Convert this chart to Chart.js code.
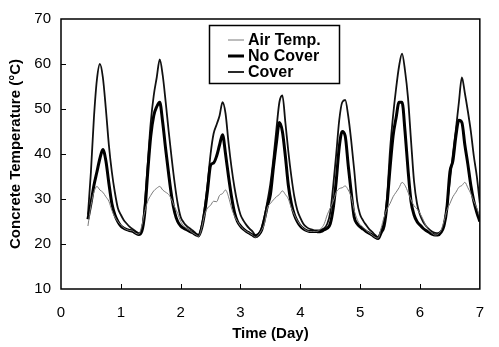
<!DOCTYPE html>
<html>
<head>
<meta charset="utf-8">
<script src="https://cdn.jsdelivr.net/npm/chart.js@4.4.1/dist/chart.umd.min.js"></script>
<style>
  html, body { margin: 0; padding: 0; background: #fff; }
  #wrap { width: 499px; height: 347px; }
</style>
</head>
<body>
<div id="wrap"><canvas id="chart" width="499" height="347"></canvas></div>
<script>
"use strict";

// time (day), one reading every 0.05 day
const days = [
  0.45, 0.5, 0.55, 0.6, 0.65, 0.7, 0.75, 0.8, 0.85, 0.9, 0.95,
  1, 1.05, 1.1, 1.15, 1.2, 1.25, 1.3, 1.35, 1.4, 1.45, 1.5, 1.55, 1.6, 1.65, 1.7, 1.75, 1.8, 1.85, 1.9, 1.95,
  2, 2.05, 2.1, 2.15, 2.2, 2.25, 2.3, 2.35, 2.4, 2.45, 2.5, 2.55, 2.6, 2.65, 2.7, 2.75, 2.8, 2.85, 2.9, 2.95,
  3, 3.05, 3.1, 3.15, 3.2, 3.25, 3.3, 3.35, 3.4, 3.45, 3.5, 3.55, 3.6, 3.65, 3.7, 3.75, 3.8, 3.85, 3.9, 3.95,
  4, 4.05, 4.1, 4.15, 4.2, 4.25, 4.3, 4.35, 4.4, 4.45, 4.5, 4.55, 4.6, 4.65, 4.7, 4.75, 4.8, 4.85, 4.9, 4.95,
  5, 5.05, 5.1, 5.15, 5.2, 5.25, 5.3, 5.35, 5.4, 5.45, 5.5, 5.55, 5.6, 5.65, 5.7, 5.75, 5.8, 5.85, 5.9, 5.95,
  6, 6.05, 6.1, 6.15, 6.2, 6.25, 6.3, 6.35, 6.4, 6.45, 6.5, 6.55, 6.6, 6.65, 6.7, 6.75, 6.8, 6.85, 6.9, 6.95,
  7
];

const airTemp = [
  24, 28.5, 31.5, 32.8, 32, 31.5, 30.5, 29.5, 27.5, 26, 25,
  24.2, 23.6, 23.2, 23, 22.9, 22.4, 22.2, 24, 27.2, 29.5, 30.8, 31.8, 32.4, 32.8, 32, 31.5, 31, 29.8, 28.2, 26.8,
  25, 24, 23.4, 23, 22.5, 22.1, 21.7, 23.5, 26.5, 28, 28.6, 29.5, 29.4, 30.8, 31.2, 32, 30.5, 28, 26.2, 25,
  24, 23.3, 22.8, 22.4, 22, 21.5, 22, 23, 24.5, 28, 29, 29.8, 30.5, 31, 31.8, 31, 30, 28, 26.5, 25.2,
  24.2, 23.5, 23, 22.8, 22.8, 22.8, 22.9, 23.5, 24.5, 26.5, 28, 29.5, 31.5, 32.3, 32.5, 32.9, 32, 30.5, 27.5, 25.5,
  24.3, 23.7, 23, 22.5, 22, 21.5, 21.3, 23.5, 26, 27.8, 29, 30.5, 31.5, 32.5, 33.7, 33, 31.5, 29.8, 28.5, 27.8,
  26.8, 25.5, 24, 23, 22.4, 22, 22.2, 23, 25, 27.5, 29, 30.5, 31.5, 32.6, 33, 33.7, 32.5, 31.2, 29.5, 28,
  26
];

const noCover = [
  25.5, 29, 33, 36, 39, 41, 38.5, 33.5, 29, 26.5, 25,
  24, 23.5, 23.2, 23, 22.8, 22.4, 22.1, 22.8, 27, 36, 44, 48.5, 50.5, 51.5, 47, 41, 35.5, 30.5, 27, 25,
  24, 23.5, 23.2, 22.8, 22.5, 22.1, 21.8, 23.5, 27, 32, 37.5, 38, 39.5, 42, 44.3, 40, 35, 30.5, 27, 25,
  24, 23.3, 22.8, 22.4, 22, 21.6, 22, 23, 25.5, 28.5, 31, 37, 42.5, 47, 45, 39.5, 33, 29, 26.5, 25,
  24, 23.4, 23, 22.8, 22.8, 22.8, 22.7, 22.8, 23.2, 23.5, 24.5, 28, 34, 41.5, 45, 44, 37.5, 31.5, 26, 24.5,
  23.8, 23.3, 22.8, 22.4, 22, 21.5, 21.2, 22.5, 24, 29, 37, 44, 48, 51.5, 51.5, 45, 36.5, 29.5, 26.5, 25,
  24.2, 23.5, 23, 22.6, 22.2, 22, 22, 22.6, 24, 28, 36, 38.5, 44, 47.5, 47, 42, 37.7, 33, 29.5, 27,
  25
];

const cover = [
  26.5, 36, 48, 56.5, 60, 57, 50, 42, 36, 31.5, 28,
  26.5, 25.3, 24.5, 23.8, 23.3, 22.8, 22.4, 23, 29, 38, 47, 53, 57, 61, 57.5, 51.5, 45, 39, 33.5, 29,
  26, 24.8, 24, 23.5, 23, 22.4, 22, 24, 28, 33.5, 40, 44.5, 46.5, 48.5, 51.5, 49, 42.5, 37, 32.5, 29,
  26.5, 25.2, 24.2, 23.4, 22.8, 22, 22.3, 23.5, 26, 29.5, 33.5, 39, 45.5, 51.5, 53, 47, 40.5, 35, 30.5, 27.5,
  25.8, 24.5, 23.8, 23.4, 23.2, 23, 23, 23.2, 23.5, 24.5, 27, 33, 40, 47.5, 51.5, 52, 48.5, 43, 36.5, 29.5,
  26.5, 25.2, 24.2, 23.3, 22.7, 22, 21.5, 23, 25, 30.5, 41, 48.5, 54.5, 59.5, 62.3, 58.5, 52.4, 43, 34, 29,
  26.5, 25, 24, 23.3, 22.8, 22.5, 22.4, 22.8, 24, 28.5, 34, 40, 45.5, 51.5, 57, 53.5, 49.5, 45, 39.5, 35,
  29
];

const xTicks = [0, 1, 2, 3, 4, 5, 6, 7];
const yTicks = [10, 20, 30, 40, 50, 60, 70];

const toPoints = (ys) => days.map((d, i) => ({ x: d, y: ys[i] }));

const FONT = "'Liberation Sans', Arial, sans-serif";

//frame box + inward ticks
const frame = {
  id: "frame",
  afterDatasetsDraw(chart) {
    const { ctx, chartArea: a, scales } = chart;
    ctx.save();
    ctx.strokeStyle = "#000";
    ctx.lineWidth = 1.5;
    ctx.strokeRect(a.left, a.top, a.right - a.left, a.bottom - a.top);
    ctx.lineWidth = 1;
    ctx.beginPath();
    xTicks.slice(1, -1).forEach((v) => {
      const x = Math.round(scales.x.getPixelForValue(v)) + 0.5;
      ctx.moveTo(x, a.bottom);
      ctx.lineTo(x, a.bottom - 5);
    });
    yTicks.slice(1, -1).forEach((v) => {
      const y = Math.round(scales.y.getPixelForValue(v)) + 0.5;
      ctx.moveTo(a.left, y);
      ctx.lineTo(a.left + 5, y);
    });
    ctx.stroke();
    ctx.restore();
  },
};

//boxed legend inside the plot
const boxLegend = {
  id: "boxLegend",
  afterDraw(chart) {
    const { ctx } = chart;
    const box = { x: 209.5, y: 25.5, w: 130, h: 58 };
    ctx.save();
    ctx.fillStyle = "#fff";
    ctx.fillRect(box.x, box.y, box.w, box.h);
    ctx.strokeStyle = "#000";
    ctx.lineWidth = 1.5;
    ctx.strokeRect(box.x, box.y, box.w, box.h);
    ctx.font = "bold 16px " + FONT;
    ctx.textBaseline = "middle";
    const rows = [40, 56, 72];
    chart.data.datasets.forEach((ds, i) => {
      const y = rows[i];
      ctx.strokeStyle = ds.borderColor;
      ctx.lineWidth = ds.borderWidth;
      ctx.beginPath();
      ctx.moveTo(228, y);
      ctx.lineTo(244, y);
      ctx.stroke();
      ctx.fillStyle = "#000";
      ctx.fillText(ds.label, 248, y + 1);
    });
    ctx.restore();
  },
};

new Chart(document.getElementById("chart"), {
  type: "line",
  data: {
    datasets: [
      {
        label: "Air Temp.",
        data: toPoints(airTemp),
        borderColor: "#7a7a7a",
        borderWidth: 1,
      },
      {
        label: "No Cover",
        data: toPoints(noCover),
        borderColor: "#000",
        borderWidth: 3,
      },
      {
        label: "Cover",
        data: toPoints(cover),
        borderColor: "#111",
        borderWidth: 1.8,
      },
    ],
  },
  options: {
    responsive: false,
    animation: false,
    devicePixelRatio: 1,
    layout: { padding: { top: 17, right: 7, left: 0, bottom: 0 } },
    elements: {
      point: { radius: 0 },
      line: { cubicInterpolationMode: "monotone" },
    },
    plugins: {
      legend: { display: false },
      tooltip: { enabled: false },
    },
    scales: {
      x: {
        type: "linear",
        min: 0,
        max: 7,
        afterBuildTicks: (s) => { s.ticks = xTicks.map((v) => ({ value: v })); },
        afterFit: (s) => { s.height = 58; },
        grid: { display: false, drawTicks: false },
        border: { display: false },
        ticks: { color: "#000", padding: 15, font: { family: FONT, size: 15 } },
        title: {
          display: true,
          text: "Time (Day)",
          color: "#000",
          padding: { top: 2 },
          font: { family: FONT, size: 15, weight: "bold" },
        },
      },
      y: {
        min: 10,
        max: 70,
        afterBuildTicks: (s) => { s.ticks = yTicks.map((v) => ({ value: v })); },
        afterFit: (s) => { s.width = 61; },
        grid: { display: false, drawTicks: false },
        border: { display: false },
        ticks: { color: "#000", padding: 10, font: { family: FONT, size: 15 } },
        title: {
          display: true,
          text: "Concrete Temperature (°C)",
          color: "#000",
          padding: { top: 7, bottom: 0 },
          font: { family: FONT, size: 15, weight: "bold" },
        },
      },
    },
  },
  plugins: [frame, boxLegend],
});
</script>
</body>
</html>
